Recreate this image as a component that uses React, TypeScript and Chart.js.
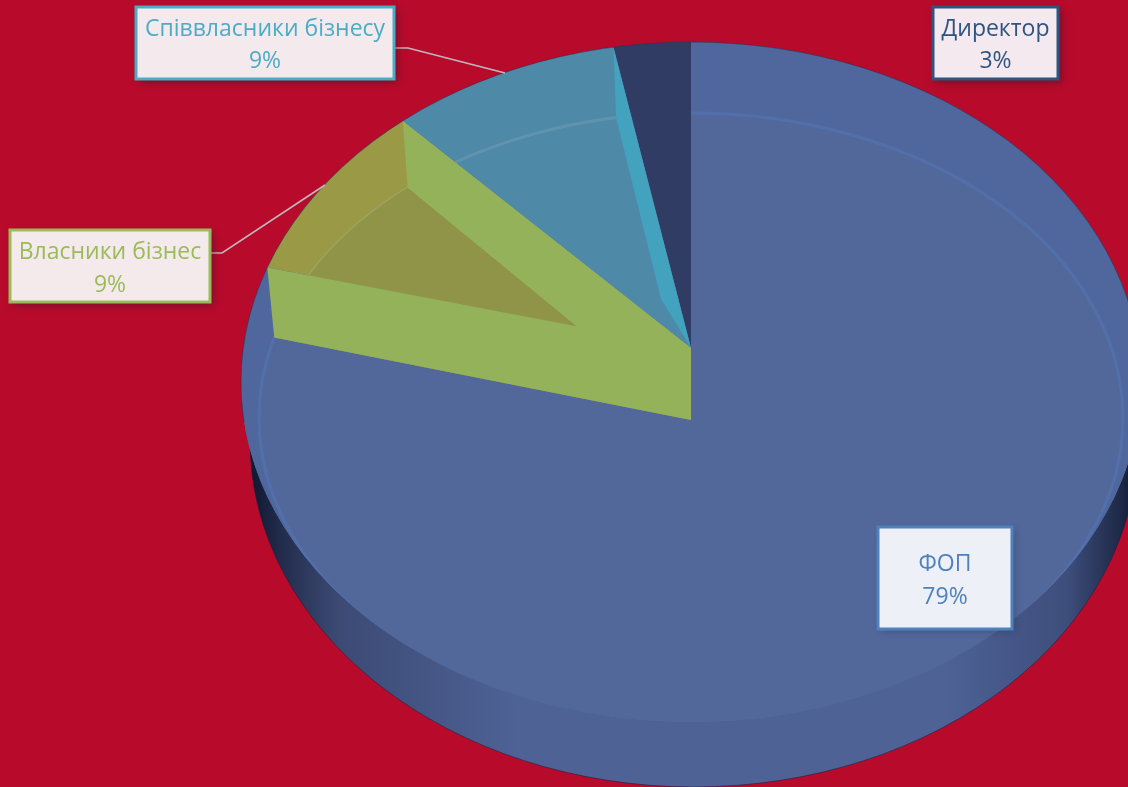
import React, { useEffect, useRef } from "react";
import { Chart, registerables } from "chart.js";

Chart.register(...registerables);

// ---- data ----
const categories = ["ФОП", "Власники бізнес", "Співвласники бізнесу", "Директор"];
const shares = [79, 9, 9, 3];

// ---- styles ----
const sliceColors = ["#52689B", "#9A9A46", "#4F89A8", "#313C64"];
const labelColors = ["#4F81BD", "#9BBB59", "#4BACC6", "#2F5480"];
const labelBackgrounds = ["#EDF0F6", "#F4EAEC", "#F4EAEE", "#F3E9EE"];
const shadowAlpha = [0.22, 0.45, 0.45, 0.5];
const PAGE_BG = "#B80B2C";
const FONT = '"Open Sans", sans-serif';

// ---- layout of the perspective drawing ----
const W = 1128;
const H = 787;
const APEX = { x: 691, y: 348 };
const FLOOR_APEX = { x: 691, y: 420 };
const RIM = { x: 691, y: 382, rx: 450, ry: 340 };
const RING = { x: 691, y: 418, rx: 432, ry: 305 };
const BASE = { x: 694, y: 441, rx: 444, ry: 346 };
const SX = 1.5;
const SY = SX * 0.74;
const FLOOR_SY = SX * 0.77;

// label box: [left, top, right, bottom], order as categories
const boxes = [
  [878, 527, 1012, 629],
  [10, 230, 210, 302],
  [136, 7, 394, 79],
  [933, 7, 1058, 79],
];
const textLines = [
  [564, 597],
  [252, 285],
  [29, 61],
  [29, 61],
];
const leaders: (number[][] | null)[] = [
  null,
  [[210, 253], [222, 253], [325, 185]],
  [[394, 48], [408, 48], [505, 73]],
  null,
];

type Pt = { x: number; y: number };
type Ell = { x: number; y: number; rx: number; ry: number };

function hit(from: Pt, angle: number, e: Ell, sy: number = SY): Pt {
  const dx = Math.cos(angle) * SX;
  const dy = Math.sin(angle) * sy;
  const ox = (from.x - e.x) / e.rx;
  const oy = (from.y - e.y) / e.ry;
  const ax = dx / e.rx;
  const ay = dy / e.ry;
  const a = ax * ax + ay * ay;
  const b = 2 * (ox * ax + oy * ay);
  const c = ox * ox + oy * oy - 1;
  const t = (-b + Math.sqrt(Math.max(0, b * b - 4 * a * c))) / (2 * a);
  return { x: from.x + dx * t, y: from.y + dy * t };
}
const lerp = (p: Pt, q: Pt, t: number): Pt => ({ x: p.x + (q.x - p.x) * t, y: p.y + (q.y - p.y) * t });

function trace(ctx: CanvasRenderingContext2D, pts: Pt[]) {
  ctx.beginPath();
  pts.forEach((p, i) => (i ? ctx.lineTo(p.x, p.y) : ctx.moveTo(p.x, p.y)));
  ctx.closePath();
}
function poly(ctx: CanvasRenderingContext2D, pts: Pt[], fill: string) {
  trace(ctx, pts);
  ctx.fillStyle = fill;
  ctx.fill();
}
function ell(ctx: CanvasRenderingContext2D, e: Ell) {
  ctx.beginPath();
  ctx.ellipse(e.x, e.y, e.rx, e.ry, 0, 0, Math.PI * 2);
}
function sector(a: number, b: number): Pt[] {
  const pts: Pt[] = [APEX];
  for (let i = 0; i <= 96; i++) pts.push(hit(APEX, a + ((b - a) * i) / 96, RIM));
  return pts;
}

const piePlugin = {
  id: "glassPie",
  beforeDraw(chart: any) {
    const ctx = chart.ctx as CanvasRenderingContext2D;
    ctx.save();
    ctx.fillStyle = PAGE_BG;
    ctx.fillRect(0, 0, W, H);
    // side wall of the disc
    const g = ctx.createLinearGradient(BASE.x - BASE.rx, 0, BASE.x + BASE.rx, 0);
    g.addColorStop(0, "#0F1730");
    g.addColorStop(0.035, "#222C4C");
    g.addColorStop(0.1, "#3C4A74");
    g.addColorStop(0.3, "#4E6296");
    g.addColorStop(0.78, "#4E6296");
    g.addColorStop(0.92, "#3E4E7C");
    g.addColorStop(0.98, "#1E2947");
    g.addColorStop(1, "#0F1730");
    ell(ctx, BASE);
    ctx.fillStyle = g;
    ctx.fill();
    ctx.strokeStyle = "rgba(30,30,60,0.55)";
    ctx.lineWidth = 1;
    ctx.stroke();
    ell(ctx, RIM);
    ctx.fillStyle = sliceColors[0];
    ctx.fill();
    ctx.restore();
  },
  beforeDatasetsDraw(chart: any) {
    const ctx = chart.ctx as CanvasRenderingContext2D;
    const arc = chart.getDatasetMeta(0).data[0];
    ctx.save();
    ell(ctx, RIM);
    ctx.clip();
    ctx.translate(APEX.x, APEX.y);
    ctx.scale(SX, SY);
    ctx.translate(-arc.x, -arc.y);
  },
  afterDatasetsDraw(chart: any) {
    const ctx = chart.ctx as CanvasRenderingContext2D;
    ctx.restore();
    const arcs = chart.getDatasetMeta(0).data;
    ctx.save();

    // brighter band between the rim and the floor circle, on the big slice only
    ctx.save();
    trace(ctx, sector(arcs[0].startAngle, arcs[0].endAngle));
    ctx.clip();
    ctx.beginPath();
    ctx.ellipse(RIM.x, RIM.y, RIM.rx, RIM.ry, 0, 0, Math.PI * 2);
    ctx.ellipse(RING.x, RING.y, RING.rx, RING.ry, 0, 0, Math.PI * 2);
    ctx.fillStyle = "rgba(70,105,185,0.09)";
    ctx.fill("evenodd");
    ell(ctx, RING);
    ctx.strokeStyle = "rgba(85,125,195,0.38)";
    ctx.lineWidth = 3;
    ctx.stroke();
    ctx.restore();

    // faint floor circle seen through the two glass slices
    ctx.save();
    trace(ctx, sector(arcs[1].startAngle, arcs[2].endAngle));
    ctx.clip();
    ell(ctx, RING);
    ctx.strokeStyle = "rgba(170,195,190,0.2)";
    ctx.lineWidth = 3;
    ctx.stroke();
    ctx.restore();

    // floor of the owners slice
    const a1 = arcs[1].startAngle;
    const a2 = arcs[1].endAngle;
    const floorPts: Pt[] = [FLOOR_APEX];
    for (let i = 0; i <= 24; i++) floorPts.push(hit(FLOOR_APEX, a1 + ((a2 - a1) * i) / 24, RING, FLOOR_SY));
    poly(ctx, floorPts, "#8F9449");

    // cut faces
    const wall = "#94B25A";
    const upperRim = hit(APEX, a2, RIM);
    const upperFloor = hit(FLOOR_APEX, a2, RING, FLOOR_SY);
    poly(ctx, [upperRim, upperFloor, lerp(upperFloor, FLOOR_APEX, 0.75), APEX], wall);
    poly(ctx, [hit(APEX, a1, RIM), hit(FLOOR_APEX, a1, RING, FLOOR_SY), FLOOR_APEX, APEX], wall);

    const tealEnd = arcs[2].endAngle;
    const tealRim = hit(APEX, tealEnd, RIM);
    const tealFloor = hit(FLOOR_APEX, tealEnd, RING, FLOOR_SY);
    poly(ctx, [tealRim, tealFloor, lerp(tealFloor, FLOOR_APEX, 0.6), APEX], "#43A2BE");

    // dark hairline along the upper rim
    ctx.save();
    ctx.beginPath();
    ctx.rect(0, 0, W, RIM.y + 40);
    ctx.clip();
    ell(ctx, RIM);
    ctx.strokeStyle = "rgba(40,40,70,0.5)";
    ctx.lineWidth = 1;
    ctx.stroke();
    ctx.restore();

    // leader lines
    ctx.strokeStyle = "#BDB9BC";
    ctx.lineWidth = 1.6;
    leaders.forEach((l) => {
      if (!l) return;
      ctx.beginPath();
      l.forEach((p, i) => (i ? ctx.lineTo(p[0], p[1]) : ctx.moveTo(p[0], p[1])));
      ctx.stroke();
    });

    // labels
    categories.forEach((name, i) => {
      const [l, t, r, b] = boxes[i];
      ctx.save();
      ctx.shadowColor = `rgba(30,20,40,${shadowAlpha[i]})`;
      ctx.shadowBlur = 8;
      ctx.shadowOffsetX = 3;
      ctx.shadowOffsetY = 3;
      ctx.fillStyle = labelBackgrounds[i];
      ctx.fillRect(l, t, r - l, b - t);
      ctx.restore();
      ctx.strokeStyle = labelColors[i];
      ctx.lineWidth = 3;
      ctx.strokeRect(l, t, r - l, b - t);
      ctx.fillStyle = labelColors[i];
      ctx.font = `23px ${FONT}`;
      ctx.textAlign = "center";
      ctx.textBaseline = "middle";
      const cx = (l + r) / 2;
      ctx.fillText(name, cx, textLines[i][0]);
      ctx.fillText(`${shares[i]}%`, cx, textLines[i][1]);
    });
    ctx.restore();
  },
};

export default function App() {
  const ref = useRef<HTMLCanvasElement>(null);
  useEffect(() => {
    if (!ref.current) return;
    const chart = new Chart(ref.current, {
      type: "pie",
      data: {
        labels: categories,
        datasets: [{ data: shares, backgroundColor: sliceColors, borderWidth: 0 }],
      },
      options: {
        responsive: false,
        animation: false,
        events: [],
        layout: { padding: 0 },
        plugins: { legend: { display: false }, tooltip: { enabled: false }, title: { display: false } },
      },
      plugins: [piePlugin],
    } as any);
    return () => chart.destroy();
  }, []);
  return (
    <canvas
      ref={ref}
      width={W}
      height={H}
      style={{ display: "block", position: "fixed", left: 0, top: 0, width: W, height: H }}
    />
  );
}
